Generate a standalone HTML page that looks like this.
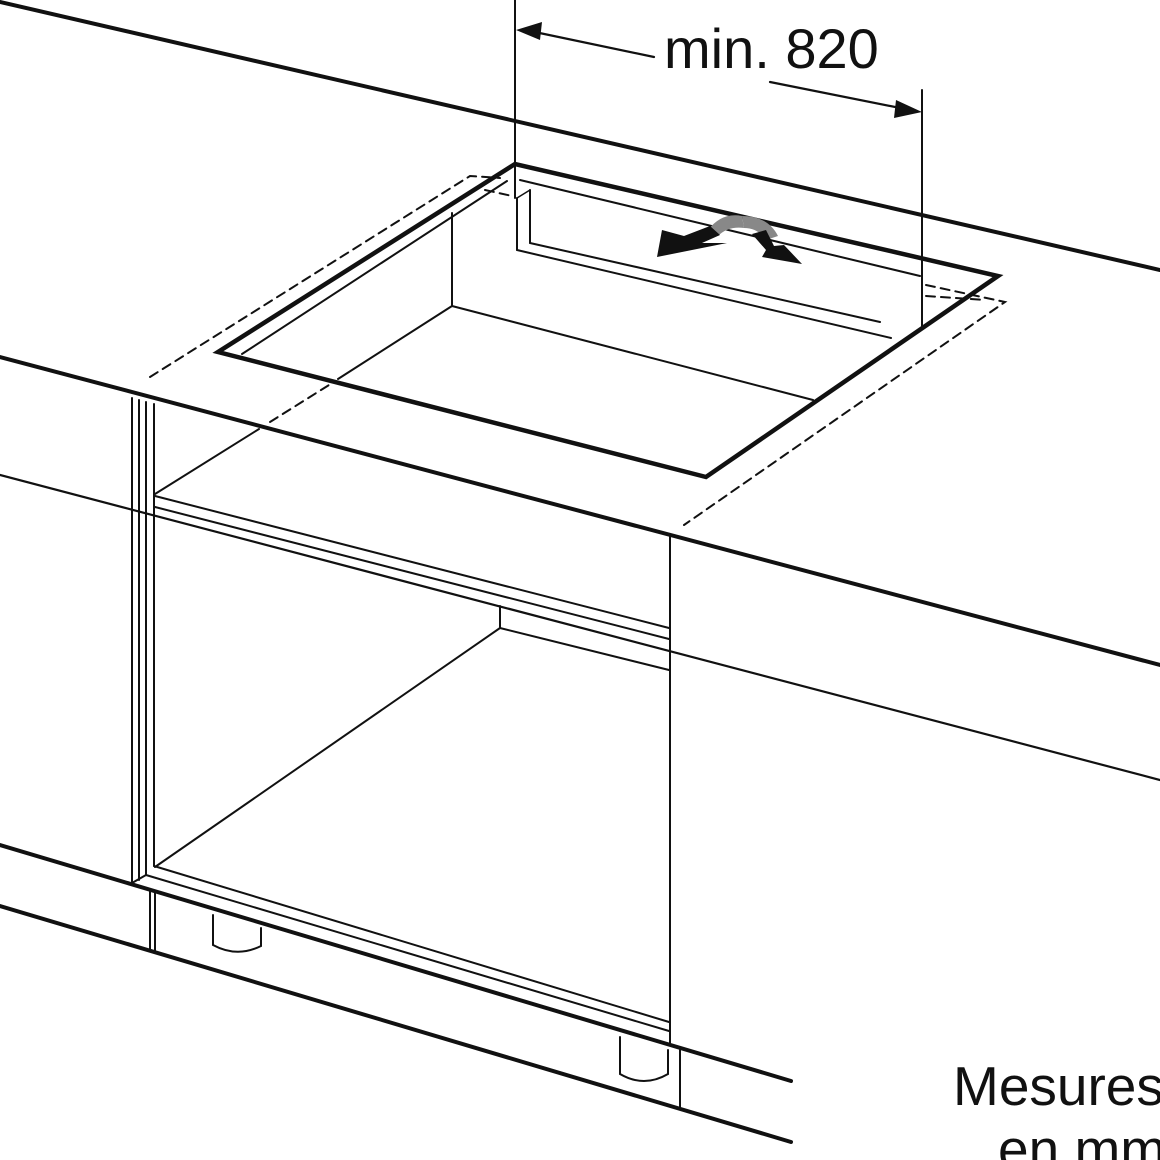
<!DOCTYPE html>
<html><head><meta charset="utf-8"><style>
html,body{margin:0;padding:0;background:#fff;}
svg{display:block;}
text{font-family:"Liberation Sans",Arial,sans-serif;fill:#111;}
</style></head><body>
<svg width="1160" height="1160" viewBox="0 0 1160 1160" xmlns="http://www.w3.org/2000/svg">
<g fill="none" stroke="#111" stroke-linecap="round" stroke-linejoin="miter">
<line x1="0" y1="2" x2="1160" y2="270" stroke-width="4"/>
<line x1="0" y1="357" x2="1160" y2="665" stroke-width="4"/>
<line x1="0" y1="475" x2="1160" y2="780" stroke-width="2.2"/>
<polygon points="515,164 218,352 706,477 998,276" stroke-width="4.5"/>
<line x1="242" y1="354" x2="507" y2="181" stroke-width="2"/>
<line x1="520" y1="180" x2="920" y2="276" stroke-width="2"/>
<!-- back ledge box -->
<line x1="517" y1="198" x2="517" y2="250" stroke-width="2"/>
<line x1="530" y1="190" x2="530" y2="243" stroke-width="2"/>
<line x1="517" y1="250" x2="891" y2="338" stroke-width="2"/>
<line x1="530" y1="243" x2="880" y2="322" stroke-width="2"/>
<line x1="517" y1="198" x2="530" y2="190" stroke-width="1.5"/>
<line x1="452" y1="213" x2="452" y2="306" stroke-width="2"/>
<line x1="452" y1="306" x2="813" y2="400" stroke-width="2"/>
<line x1="452" y1="306" x2="338" y2="379" stroke-width="2"/>
<line x1="515" y1="0" x2="515" y2="198" stroke-width="2"/>
<line x1="922" y1="90" x2="922" y2="326" stroke-width="2"/>
<line x1="530" y1="31" x2="654" y2="57" stroke-width="2.2"/>
<line x1="770" y1="82" x2="905" y2="109" stroke-width="2.2"/>
<g stroke-dasharray="9,6" stroke-width="2">
<polyline points="150,377 470,176 500,178"/>
<line x1="270" y1="422" x2="329" y2="385"/>
<polyline points="926,285 1005,302 684,525"/>
<line x1="926" y1="296" x2="985" y2="300"/>
<line x1="485" y1="190" x2="512" y2="196"/>
</g>
<line x1="132" y1="398" x2="132" y2="883" stroke-width="2"/>
<line x1="139" y1="400" x2="139" y2="880" stroke-width="2"/>
<line x1="146" y1="402" x2="146" y2="875" stroke-width="2"/>
<line x1="154" y1="404" x2="154" y2="866" stroke-width="2"/>
<line x1="259" y1="429" x2="155" y2="494" stroke-width="2"/>
<line x1="155" y1="496" x2="669" y2="628" stroke-width="2"/>
<line x1="155" y1="507" x2="669" y2="639" stroke-width="2"/>
<line x1="500" y1="606" x2="500" y2="628" stroke-width="2"/>
<line x1="500" y1="628" x2="669" y2="670" stroke-width="2"/>
<line x1="500" y1="628" x2="155" y2="867" stroke-width="2"/>
<line x1="154" y1="866" x2="669" y2="1022" stroke-width="2"/>
<line x1="146" y1="875" x2="669" y2="1031" stroke-width="2"/>
<line x1="132" y1="883" x2="146" y2="875" stroke-width="2"/>
<line x1="670" y1="535" x2="670" y2="1043" stroke-width="2"/>
<line x1="0" y1="845" x2="791" y2="1081" stroke-width="4"/>
<line x1="0" y1="906" x2="791" y2="1142" stroke-width="4"/>
<line x1="150" y1="891" x2="150" y2="950" stroke-width="2"/>
<line x1="155" y1="893" x2="155" y2="951" stroke-width="2"/>
<line x1="680" y1="1050" x2="680" y2="1107" stroke-width="2"/>
<path d="M213,915 L213,945 Q237,958 261,946 L261,928" stroke-width="2"/>
<path d="M620,1037 L620,1074 Q644,1088 668,1074 L668,1050" stroke-width="2"/>
</g>
<polygon points="516,30 542,22 540,40" fill="#111"/>
<polygon points="922,112 896,100 894,118" fill="#111"/>
<!-- curved arrows -->
<path d="M708,230 Q722,212 742,216 L744,228 Q728,226 718,236 Z" fill="#888"/>
<path d="M742,216 Q768,216 778,236 L766,240 Q758,228 744,228 Z" fill="#888"/>
<polygon points="657,257 662,230 684,236 710,226 720,235 702,243 727,243" fill="#111"/>
<polygon points="752,234 766,230 774,246 784,245 802,264 762,257 766,250" fill="#111"/>
<text x="664" y="68" font-size="56">min. 820</text>
<text x="953" y="1105" font-size="55">Mesures</text>
<text x="998" y="1168" font-size="55">en mm</text>
</svg>
</body></html>
